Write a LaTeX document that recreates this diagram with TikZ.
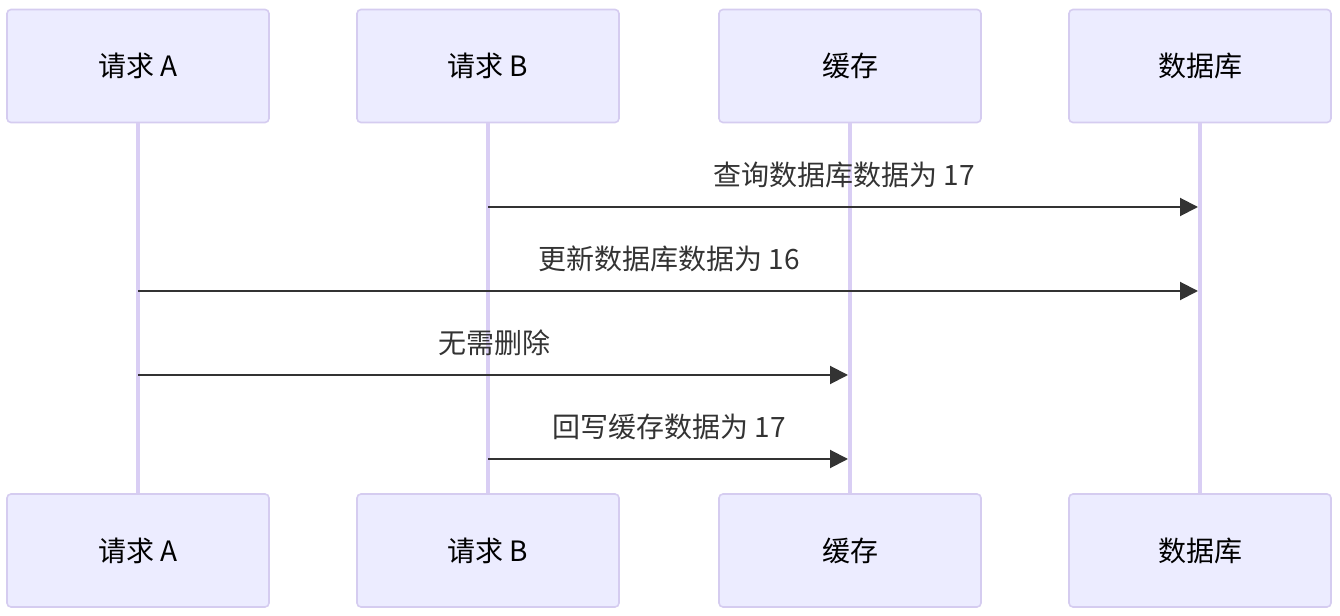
\documentclass[tikz,border=0pt]{standalone}
\usepackage{fontspec}
\newfontfamily\cjk{Noto Sans CJK SC}
\usetikzlibrary{arrows.meta}
\definecolor{actfill}{HTML}{ECECFF}
\definecolor{actline}{HTML}{D5CCF0}
\definecolor{lifecol}{HTML}{D9CEF4}
\definecolor{msgcol}{HTML}{333333}

\begin{document}
\begin{tikzpicture}[
  x=0.75pt, y=-0.75pt,
  font=\cjk\fontsize{21}{25}\selectfont,
  actor/.style={draw=actline, fill=actfill, line width=1.2pt, rounded corners=3pt,
                minimum width=196.5pt, minimum height=84.75pt, inner sep=0pt},
  life/.style={draw=lifecol, line width=2.8pt},
  msg/.style={draw=msgcol, line width=1.5pt, shorten >=1.5pt,
              -{Triangle[length=13.5pt, width=13.5pt]}},
  lbl/.style={text=msgcol, midway, yshift=24pt}
]
\useasboundingbox (0,0) rectangle (1340,616);

% actors, top and bottom
\node[actor] (ta) at (138,66) {请求 A};
\node[actor] (tb) at (488,66) {请求 B};
\node[actor] (tc) at (850,66) {缓存};
\node[actor] (td) at (1200,66) {数据库};
\node[actor] (ba) at (138,550.5) {请求 A};
\node[actor] (bb) at (488,550.5) {请求 B};
\node[actor] (bc) at (850,550.5) {缓存};
\node[actor] (bd) at (1200,550.5) {数据库};

% lifelines
\foreach \p in {a,b,c,d}
  \draw[life] (t\p.south) -- (b\p.north);

% message rows
\coordinate (y1) at (0,207);
\coordinate (y2) at (0,291);
\coordinate (y3) at (0,375);
\coordinate (y4) at (0,459);

\draw[msg] (tb |- y1) -- node[lbl] (l1) {查询数据库数据为 17} (td |- y1);
\draw[msg] (ta |- y2) -- node[lbl] (l2) {更新数据库数据为 16} (td |- y2);
\draw[msg] (ta |- y3) -- node[lbl] (l3) {无需删除} (tc |- y3);
\draw[msg] (tb |- y4) -- node[lbl] (l4) {回写缓存数据为 17} (tc |- y4);
\end{tikzpicture}
\end{document}
